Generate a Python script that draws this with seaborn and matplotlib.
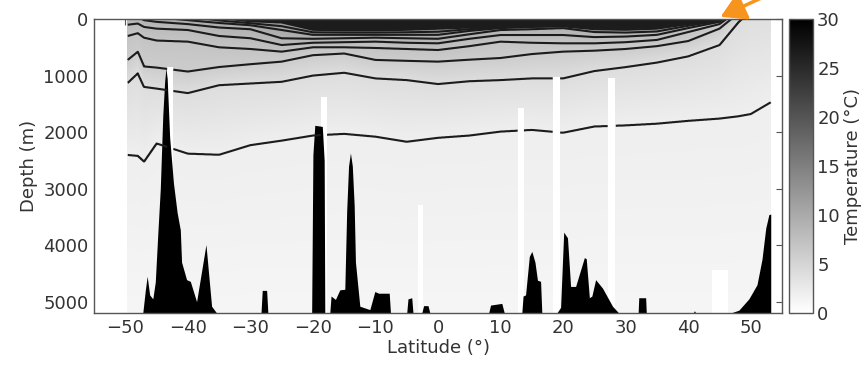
import numpy as np
import matplotlib
matplotlib.use("Agg")
import matplotlib.pyplot as plt
import seaborn as sns

sns.set_theme(style="white")
plt.rcParams['font.family'] = ['DejaVu Sans']

lat_nodes = [-50, -48, -47, -45, -40, -35, -30, -25, -20, -15, -10, -5, 0,
             5, 10, 15, 20, 25, 30, 35, 40, 45, 48, 50, 54]

# isotherm depths (m); negative = isotherm has outcropped above the surface
iso_temps = [29, 20, 15, 12, 10, 9, 8, 7, 6, 4, 2]
d29 = [-800, -820, -800, -780, -750, -700, -500, -300, -20, 0, 0, 10, 20,
       10, 5, 0, 0, -10, -20, -40, -60, -150, -800, -1200, -1800]
d20 = [-400, -420, -400, -380, -350, -300, -200, -10, 60, 70, 70, 75, 80,
       70, 60, 50, 45, 50, 55, 40, 15, -50, -600, -1000, -1400]
d15 = [-300, -320, -300, -280, -250, -150, -40, 20, 130, 140, 130, 130, 130,
       115, 100, 85, 75, 90, 100, 80, 35, -20, -500, -900, -1200]
d12 = [-200, -220, -180, -150, -100, -20, 40, 60, 190, 200, 200, 190, 170,
       150, 130, 110, 100, 130, 140, 120, 60, 0, -400, -750, -1000]
d10 = [-100, -120, -60, -30, 20, 70, 110, 194, 280, 280, 280, 280, 280,
       210, 160, 140, 130, 180, 190, 170, 90, 15, -300, -600, -800]
d9 = [-20, -40, 20, 50, 90, 150, 180, 341, 350, 340, 330, 340, 350,
      270, 194, 180, 160, 230, 240, 220, 120, 30, -250, -500, -700]
d8 = [106, 80, 140, 170, 194, 300, 340, 460, 420, 410, 400, 420, 430,
      350, 283, 283, 283, 320, 310, 280, 160, 50, -200, -450, -600]
d7 = [312, 250, 330, 380, 400, 500, 530, 577, 500, 500, 512, 530, 548,
      480, 400, 420, 430, 430, 410, 370, 230, 90, -150, -400, -500]
d6 = [760, 580, 840, 860, 930, 850, 800, 754, 640, 610, 724, 740, 754,
      720, 690, 620, 577, 560, 530, 480, 390, 170, -100, -300, -400]
d4 = [1170, 960, 1200, 1230, 1310, 1170, 1140, 1110, 1000, 950, 1050, 1080, 1150,
      1100, 1080, 1050, 1050, 920, 850, 770, 660, 460, 60, -150, -200]
d2 = [2400, 2420, 2520, 2200, 2380, 2400, 2230, 2150, 2060, 2030, 2080, 2170, 2100,
      2060, 1990, 1960, 2010, 1900, 1880, 1850, 1800, 1760, 1720, 1680, 1420]
bottom_temp = 1.2
max_depth = 5200
field_south, field_north = -49.6, 53.2
contour_levels = [2, 4] + list(range(6, 30))

# stations with no data (white stripes): lat range and top depth
gap_lat0 = [-43.3, -18.7, -3.2, 12.8, 18.4, 27.2, 43.8]
gap_lat1 = [-42.4, -17.8, -2.4, 13.7, 19.5, 28.4, 46.4]
gap_top = [850, 1380, 3300, 1570, 1020, 1050, 4450]

# bathymetry along the section
bathy_lat = [-49.6, -47.2, -46.8, -46.5, -46.1, -45.6, -45.2, -44.8, -44.4, -44.0,
             -43.7, -43.5, -43.3, -42.9, -42.3, -41.7, -41.2, -41.0, -40.2, -39.6,
             -38.6, -37.1, -36.2, -35.4,
             -28.3, -28.1, -27.4, -27.2,
             -20.2, -20.0, -19.7, -18.5, -18.2, -18.1,
             -17.3, -17.1, -16.4, -15.7, -14.9, -14.6, -14.3, -14.0, -13.7, -13.4,
             -13.2, -12.5, -10.9, -10.1, -9.5, -7.8, -7.6,
             -5.0, -4.8, -4.2, -4.0,
             -2.6, -2.3, -1.6, -1.3,
             8.1, 8.4, 10.2, 10.6,
             13.4, 13.6, 14.0, 14.6, 15.0, 15.5, 15.9, 16.4, 16.6,
             19.0, 19.6, 20.1, 20.7, 21.2, 22.0, 23.4, 23.7, 24.2, 24.6, 25.2, 26.3,
             27.9, 28.9,
             32.0, 32.1, 33.2, 33.3,
             40.8, 41.0, 41.2,
             46.8, 48.1, 49.7, 51.0, 51.8, 52.4, 52.9, 53.2]
bathy_depth = [5200, 5200, 4800, 4550, 4880, 4950, 4650, 3800, 3000, 1700,
               1100, 870, 1050, 2100, 2900, 3430, 3730, 4300, 4610, 4640,
               5000, 3990, 5080, 5200,
               5200, 4800, 4800, 5200,
               5200, 2400, 1880, 1900, 2500, 5200,
               5200, 4900, 4960, 4790, 4780, 3400, 2600, 2370, 2600, 3300,
               4300, 5080, 5140, 4820, 4850, 4850, 5200,
               5200, 4950, 4930, 5200,
               5200, 5070, 5070, 5200,
               5200, 5060, 5030, 5200,
               5200, 4900, 4880, 4200, 4110, 4300, 4620, 4640, 5200,
               5200, 5100, 3770, 3870, 4730, 4730, 4220, 4240, 4930, 4900, 4610, 4760,
               5080, 5200,
               5200, 4930, 4930, 5200,
               5200, 5160, 5200,
               5200, 5150, 4950, 4700, 4250, 3700, 3460, 3450]

# temperature field built from the isotherm depths
lat = np.linspace(field_south, field_north, 1030)
z = np.linspace(0, max_depth, 1041)
iso = np.array([d29, d20, d15, d12, d10, d9, d8, d7, d6, d4, d2], float)
iso_at = np.array([np.interp(lat, lat_nodes, row) for row in iso])
temps = np.append(iso_temps, bottom_temp)
temp = np.empty((len(z), len(lat)))
for j in range(len(lat)):
    temp[:, j] = np.interp(z, np.append(iso_at[:, j], max_depth), temps)
LAT, Z = np.meshgrid(lat, z)
for a, b, top in zip(gap_lat0, gap_lat1, gap_top):
    temp[(LAT >= a) & (LAT <= b) & (Z >= top)] = np.nan
temp = np.ma.masked_invalid(temp)

fig = plt.figure(figsize=(8.65, 3.67), dpi=100)
ax = fig.add_axes([94 / 865, 54 / 367, 688 / 865, 294 / 367])
cax = fig.add_axes([789 / 865, 54 / 367, 24 / 865, 294 / 367])

cmap = sns.color_palette("gray_r", as_cmap=True)
mesh = ax.pcolormesh(lat, z, temp, cmap=cmap, vmin=0, vmax=30,
                     shading='auto', rasterized=True)
ax.contour(lat, z, temp, levels=contour_levels, colors='#1c1c1c',
           linewidths=1.5)
ax.fill_between(bathy_lat, bathy_depth, max_depth, color='black', lw=0)

ax.set_xlim(-55, 55)
ax.set_ylim(max_depth, 0)
ax.set_xticks(range(-50, 51, 10))
ax.set_yticks(range(0, 5001, 1000))
ax.tick_params(direction='in', length=4, width=0.8, color='#555555',
               labelcolor='#333333', labelsize=13, top=True, right=True, pad=4)
for sp in ax.spines.values():
    sp.set_color('#555555')
    sp.set_linewidth(1.0)
ax.set_xlabel('Latitude (°)', fontsize=13, color='#333333', labelpad=2)
ax.set_ylabel('Depth (m)', fontsize=13, color='#333333', labelpad=4)

cbar = fig.colorbar(mesh, cax=cax, ticks=range(0, 31, 5))
cbar.outline.set_edgecolor('#555555')
cbar.outline.set_linewidth(1.0)
cax.tick_params(direction='in', length=3, width=0.8, color='#555555',
                labelcolor='#333333', labelsize=13, left=True, right=True, pad=3)
cbar.set_label('Temperature (°C)', fontsize=13, color='#333333', labelpad=3)

ax.annotate('', xy=(718, 349), xycoords='figure pixels',
            xytext=(772, 374), textcoords='figure pixels',
            arrowprops=dict(arrowstyle='-|>,head_length=0.6,head_width=0.35',
                            color='#f7941d', lw=2.5, mutation_scale=25),
            annotation_clip=False)

fig.savefig('out.png', dpi=100)
